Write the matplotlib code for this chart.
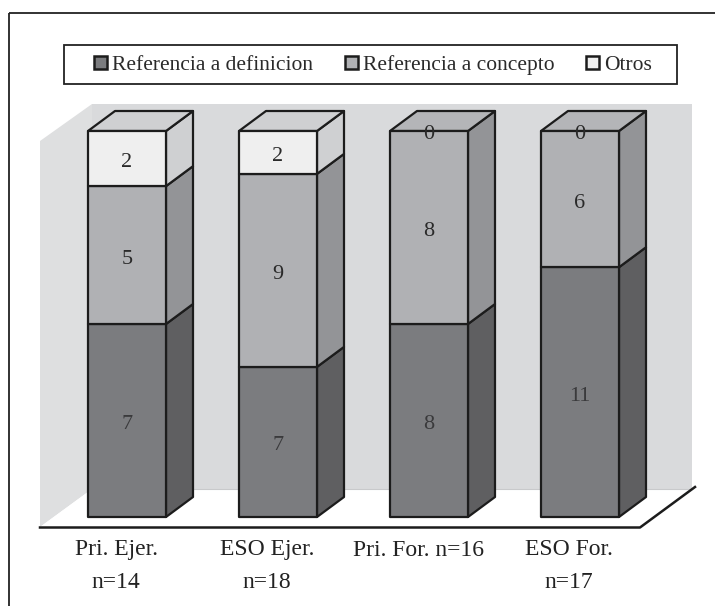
import matplotlib
matplotlib.use("Agg")
import matplotlib.pyplot as plt
from matplotlib.patches import Polygon, Patch
import numpy as np

plt.rcParams['font.family'] = ['Liberation Serif', 'DejaVu Serif']

categories = ["Pri. Ejer.\nn=14", "ESO Ejer.\nn=18", "Pri. For. n=16", "ESO For.\nn=17"]
series_names = ["Referencia a definicion", "Referencia a concepto", "Otros"]
definicion = [7, 7, 8, 11]
concepto = [5, 9, 8, 6]
otros = [2, 2, 0, 0]
series = [definicion, concepto, otros]

front_cols = ["#7b7c7f", "#b0b1b4", "#efefef"]
side_cols = ["#5f5f61", "#939497", "#cfd0d2"]
top_cols = ["#5f5f61", "#b4b5b8", "#cfd0d2"]
text_cols = ["#3a3a3c", "#2a2a2a", "#2a2a2a"]
EDGE = "#1c1c1c"

W, H = 715, 606
fig = plt.figure(figsize=(W/100, H/100), dpi=100, facecolor="white")
ax = fig.add_axes([0, 0, 1, 1])

# scales: category index -> x pixel 127+151*i ; share(%) -> y pixel 517-3.86*p
px_x = 151.0
px_y = 3.86
ax.set_xlim(-127/px_x, (W-127)/px_x)
ax.set_ylim(-(H-517)/px_y, 100+131/px_y)
ax.axis("off")

def X(px):
    return (px-127)/px_x
def Y(py):
    return (517-py)/px_y

bw = 78/px_x
ddx = 27/px_x
ddy = 20/px_y
label_shift = 4/px_y

def poly(pts_px, **kw):
    ax.add_patch(Polygon([(X(a), Y(b)) for a, b in pts_px], closed=True, **kw))

# frame
ax.plot([X(9), X(9)], [Y(606), Y(13)], color="#222222", lw=1.3, solid_capstyle="butt")
ax.plot([X(9), X(715)], [Y(13), Y(13)], color="#222222", lw=1.3, solid_capstyle="butt")

# walls and floor
poly([(92, 104), (692, 104), (692, 489), (92, 489)], fc="#d9dadc", ec="none", zorder=1)
poly([(40, 141), (92, 104), (92, 489), (40, 527)], fc="#dedfe0", ec="none", zorder=1)
poly([(40, 527), (92, 489), (693, 489), (640, 527)], fc="white", ec="none", zorder=1.5)
ax.plot([X(40), X(640), X(695)], [Y(527.5), Y(527.5), Y(487)], color="#1c1c1c", lw=1.8, zorder=2)
ax.plot([X(92), X(692)], [Y(489), Y(489)], color="#c8c9cb", lw=0.8, zorder=1.6)

# stacked 100 % bars
totals = np.sum(series, axis=0)
for i, cat in enumerate(categories):
    x0 = i - bw/2
    x1 = i + bw/2
    base = 0.0
    last_visible = 0
    for s, vals in enumerate(series):
        v = vals[i]
        p = 100.0*v/totals[i]
        if v > 0:
            last_visible = s
            ax.add_patch(Polygon([(x0, base), (x1, base), (x1, base+p), (x0, base+p)],
                                 fc=front_cols[s], ec=EDGE, lw=1.6, joinstyle="round", zorder=4))
            ax.add_patch(Polygon([(x1, base), (x1+ddx, base+ddy), (x1+ddx, base+p+ddy), (x1, base+p)],
                                 fc=side_cols[s], ec=EDGE, lw=1.6, joinstyle="round", zorder=3))
        ax.text(i, base+p/2-label_shift, str(v), ha="center", va="center", fontsize=16,
                color=text_cols[s], zorder=6)
        base += p
    ax.add_patch(Polygon([(x0, 100), (x1, 100), (x1+ddx, 100+ddy), (x0+ddx, 100+ddy)],
                         fc=top_cols[last_visible], ec=EDGE, lw=1.6, joinstyle="round", zorder=3.5))
    label_y = 566 if "\n" in cat else 550
    ax.text(i-11/px_x, Y(label_y), cat, ha="center", va="center",
            fontsize=17, color="#222222", linespacing=1.75, zorder=6)

# legend box and entries
poly([(64, 45), (677, 45), (677, 84), (64, 84)], fc="white", ec="#222222", lw=1.3, zorder=2)
handles = [Patch(fc=front_cols[k], ec=EDGE, lw=1.8) for k in range(3)]
leg = ax.legend(handles, series_names, ncol=3, loc="center",
                bbox_to_anchor=(373/W, 1-65/H), bbox_transform=fig.transFigure,
                frameon=False, prop={"size": 15.5}, handlelength=0.6, handleheight=0.6,
                handletextpad=0.25, columnspacing=1.45, borderpad=0, borderaxespad=0)
for t in leg.get_texts():
    t.set_color("#2a2a2a")

fig.savefig("out.png", dpi=100, facecolor="white")
